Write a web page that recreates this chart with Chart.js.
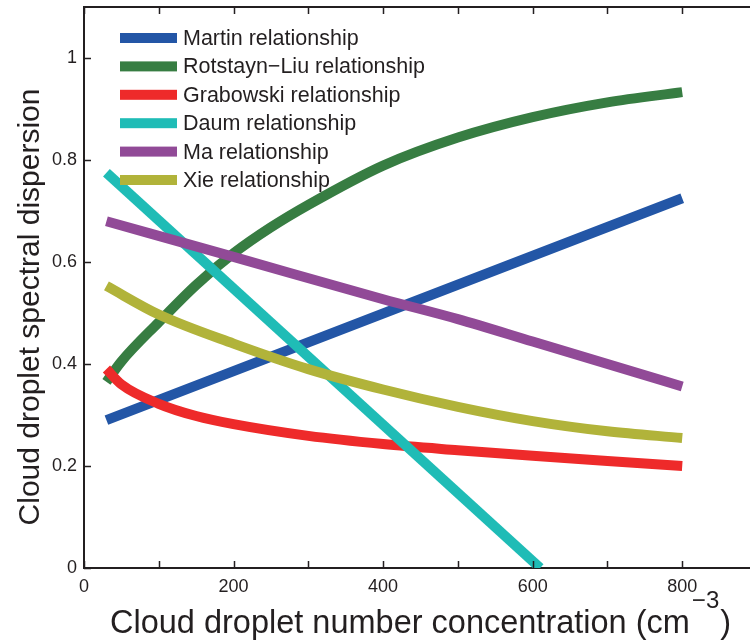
<!DOCTYPE html>
<html>
<head>
<meta charset="utf-8">
<script src="https://cdn.jsdelivr.net/npm/chart.js@4/dist/chart.umd.min.js"></script>
<style>
  html, body { margin: 0; padding: 0; background: #fff; overflow: hidden; }
  #wrap { width: 750px; height: 644px; overflow: hidden; }
</style>
</head>
<body>
<div id="wrap"><canvas id="dispChart" width="760" height="644"></canvas></div>
<script>
// series names
const seriesNames = ['Martin relationship', 'Rotstayn\u2212Liu relationship', 'Grabowski relationship',
  'Daum relationship', 'Ma relationship', 'Xie relationship'];
const seriesColors = ['#2356a6', '#377d42', '#ee2a2a', '#1fbcb6', '#914a97', '#b1b33a'];

// x values (cm^-3) and dispersion for each relationship
const martinX = [30, 800];
const martin = [0.29, 0.725];

const rotstaynX = [30, 50, 100, 150, 200, 250, 300, 400, 500, 600, 700, 800];
const rotstayn = [0.365, 0.405, 0.482, 0.555, 0.617, 0.668, 0.712, 0.789, 0.844, 0.884, 0.913, 0.933];

const grabowskiX = [30, 50, 100, 150, 200, 300, 400, 500, 600, 700, 800];
const grabowski = [0.39, 0.36, 0.322, 0.298, 0.282, 0.259, 0.243, 0.231, 0.22, 0.21, 0.2];

const daumX = [30, 610];
const daum = [0.775, 0];

const maX = [30, 200, 400, 500, 600, 800];
const ma = [0.68, 0.61, 0.527, 0.488, 0.444, 0.356];

const xieX = [30, 100, 200, 300, 400, 500, 600, 700, 800];
const xie = [0.553, 0.497, 0.44, 0.39, 0.35, 0.316, 0.288, 0.268, 0.255];

// axis ticks
const xTicks = [0, 100, 200, 300, 400, 500, 600, 700, 800, 900];
const xLabels = [0, 200, 400, 600, 800];
const yTicks = [0, 0.2, 0.4, 0.6, 0.8, 1];

const allX = [martinX, rotstaynX, grabowskiX, daumX, maX, xieX];
const allY = [martin, rotstayn, grabowski, daum, ma, xie];

function toPoints(xs, ys) {
  let pts = [];
  for (let i = 0; i < xs.length; i++) {
    pts.push({ x: xs[i], y: ys[i] });
  }
  return pts;
}

let datasets = [];
for (let i = 0; i < seriesNames.length; i++) {
  datasets.push({
    label: seriesNames[i],
    data: toPoints(allX[i], allY[i]),
    borderColor: seriesColors[i],
    backgroundColor: seriesColors[i],
    borderWidth: 10,
    borderCapStyle: 'butt',
    pointRadius: 0,
    cubicInterpolationMode: 'monotone',
    fill: false,
    order: seriesNames.length - i
  });
}

const axisColor = '#231f20';
const tickFont = '"Liberation Sans", Arial, sans-serif';

// frame, inward ticks, legend and axis titles
const framePlugin = {
  id: 'frame',
  afterDatasetsDraw(chart) {
    const ctx = chart.ctx;
    const area = chart.chartArea;
    const xs = chart.scales.x;
    const ys = chart.scales.y;
    ctx.save();
    ctx.strokeStyle = axisColor;
    ctx.lineWidth = 2;
    ctx.beginPath();
    ctx.moveTo(area.left, area.top);
    ctx.lineTo(area.right, area.top);
    ctx.lineTo(area.right, area.bottom);
    ctx.stroke();

    ctx.lineWidth = 1.5;
    ctx.beginPath();
    xTicks.forEach(v => {
      const px = Math.round(xs.getPixelForValue(v)) + 0.5;
      ctx.moveTo(px, area.bottom);
      ctx.lineTo(px, area.bottom - 7);
      ctx.moveTo(px, area.top);
      ctx.lineTo(px, area.top + 7);
    });
    yTicks.forEach(v => {
      const py = Math.round(ys.getPixelForValue(v)) + 0.5;
      ctx.moveTo(area.left, py);
      ctx.lineTo(area.left + 7, py);
      ctx.moveTo(area.right, py);
      ctx.lineTo(area.right - 7, py);
    });
    ctx.stroke();

    // legend inside the axes
    ctx.font = '21.5px ' + tickFont;
    ctx.textBaseline = 'middle';
    ctx.textAlign = 'left';
    for (let i = 0; i < seriesNames.length; i++) {
      const cy = 38 + i * 28.4;
      ctx.fillStyle = seriesColors[i];
      ctx.fillRect(120, cy - 5, 57, 10);
      ctx.fillStyle = axisColor;
      ctx.fillText(seriesNames[i], 183, cy + 1);
    }

    // y title
    ctx.font = '30px ' + tickFont;
    ctx.save();
    ctx.translate(39, 307);
    ctx.rotate(-Math.PI / 2);
    ctx.textAlign = 'center';
    ctx.textBaseline = 'alphabetic';
    ctx.fillText('Cloud droplet spectral dispersion', 0, 0);
    ctx.restore();

    // x title with superscript
    ctx.textBaseline = 'alphabetic';
    ctx.textAlign = 'left';
    const base = 'Cloud droplet number concentration (cm';
    let sx = 110;
    ctx.font = '32.5px ' + tickFont;
    ctx.fillText(base, sx, 633);
    sx += ctx.measureText(base).width + 2;
    ctx.font = '24px ' + tickFont;
    ctx.fillText('\u22123', sx, 608);
    sx += ctx.measureText('\u22123').width + 1;
    ctx.font = '32.5px ' + tickFont;
    ctx.fillText(')', sx, 633);
    ctx.restore();
  }
};

const ctx = document.getElementById('dispChart').getContext('2d');
const dispChart = new Chart(ctx, {
  type: 'line',
  data: { datasets: datasets },
  options: {
    responsive: false,
    animation: false,
    layout: { padding: { top: 7, right: 3, left: 0, bottom: 0 } },
    plugins: {
      legend: { display: false },
      tooltip: { enabled: false }
    },
    scales: {
      x: {
        type: 'linear',
        min: 0,
        max: 900,
        grid: { display: false, drawTicks: false },
        border: { display: true, color: axisColor, width: 2 },
        ticks: {
          stepSize: 100,
          includeBounds: false,
          maxRotation: 0,
          autoSkip: false,
          padding: 8,
          color: axisColor,
          font: { family: tickFont, size: 18 },
          callback: function (v) { return xLabels.includes(v) ? String(v) : ''; }
        },
        afterFit: function (scale) {
          scale.height = 76;
          scale.paddingLeft = 0;
          scale.paddingRight = 0;
        }
      },
      y: {
        type: 'linear',
        min: 0,
        max: 1.1,
        grid: { display: false, drawTicks: false },
        border: { display: true, color: axisColor, width: 2 },
        ticks: {
          stepSize: 0.2,
          includeBounds: false,
          autoSkip: false,
          padding: 7,
          color: axisColor,
          font: { family: tickFont, size: 18 },
          callback: function (v) {
            const r = Math.round(v * 10) / 10;
            return r === 0 ? '0' : (r === 1 ? '1' : String(r));
          }
        },
        afterFit: function (scale) {
          scale.width = 84;
          scale.paddingTop = 0;
          scale.paddingBottom = 0;
        }
      }
    }
  },
  plugins: [framePlugin]
});
</script>
</body>
</html>
